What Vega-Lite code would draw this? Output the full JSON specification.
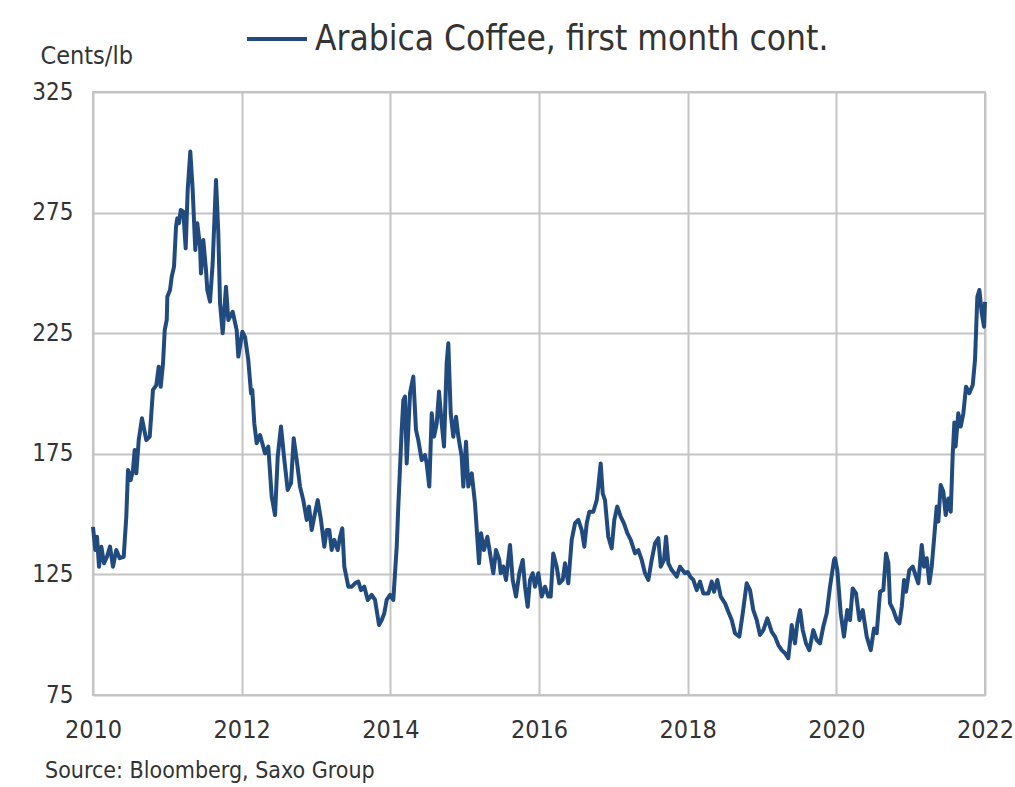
{
  "$schema": "https://vega.github.io/schema/vega-lite/v6.json",
  "width": 892,
  "height": 603,
  "autosize": "none",
  "padding": {"left": 93, "top": 92, "right": 30, "bottom": 92},
  "background": "white",
  "config": {
    "view": {"stroke": "#c4c4c4", "strokeWidth": 2},
    "font": "'Liberation Sans Narrow', 'DejaVu Sans Condensed', sans-serif"
  },
  "title": {
    "text": "Source: Bloomberg, Saxo Group",
    "orient": "bottom",
    "anchor": "start",
    "frame": "group",
    "dx": -48,
    "offset": 18,
    "fontSize": 23,
    "fontWeight": "normal",
    "color": "#333333",
    "font": "'Liberation Sans Narrow', 'DejaVu Sans Condensed', sans-serif"
  },
  "data": {
    "values": [
      {"year": 2010.000, "price": 144.7},
      {"year": 2010.031, "price": 135.1},
      {"year": 2010.054, "price": 140.6},
      {"year": 2010.081, "price": 128.2},
      {"year": 2010.112, "price": 136.5},
      {"year": 2010.148, "price": 129.6},
      {"year": 2010.188, "price": 132.3},
      {"year": 2010.229, "price": 136.5},
      {"year": 2010.269, "price": 128.2},
      {"year": 2010.313, "price": 135.1},
      {"year": 2010.359, "price": 131.7},
      {"year": 2010.413, "price": 132.3},
      {"year": 2010.448, "price": 149},
      {"year": 2010.471, "price": 168.3},
      {"year": 2010.507, "price": 164.1},
      {"year": 2010.538, "price": 168.3},
      {"year": 2010.561, "price": 176.6},
      {"year": 2010.583, "price": 166.9},
      {"year": 2010.615, "price": 180.7},
      {"year": 2010.659, "price": 189.7},
      {"year": 2010.717, "price": 180.7},
      {"year": 2010.763, "price": 182.1},
      {"year": 2010.807, "price": 201.5},
      {"year": 2010.852, "price": 203.5},
      {"year": 2010.884, "price": 211.1},
      {"year": 2010.911, "price": 202.8},
      {"year": 2010.942, "price": 212.5},
      {"year": 2010.965, "price": 226.3},
      {"year": 2010.992, "price": 230.5},
      {"year": 2011.000, "price": 240.1},
      {"year": 2011.036, "price": 242.9},
      {"year": 2011.059, "price": 248.4},
      {"year": 2011.090, "price": 252.6},
      {"year": 2011.117, "price": 269.2},
      {"year": 2011.134, "price": 272.6},
      {"year": 2011.157, "price": 270.6},
      {"year": 2011.180, "price": 276.1},
      {"year": 2011.215, "price": 275.4},
      {"year": 2011.247, "price": 260.2},
      {"year": 2011.274, "price": 284.4},
      {"year": 2011.309, "price": 300.3},
      {"year": 2011.341, "price": 284.4},
      {"year": 2011.376, "price": 259.5},
      {"year": 2011.403, "price": 270.6},
      {"year": 2011.440, "price": 260.9},
      {"year": 2011.453, "price": 249.8},
      {"year": 2011.484, "price": 263.6},
      {"year": 2011.520, "price": 251.2},
      {"year": 2011.538, "price": 242.9},
      {"year": 2011.574, "price": 238.1},
      {"year": 2011.610, "price": 254},
      {"year": 2011.655, "price": 288.5},
      {"year": 2011.686, "price": 266.5},
      {"year": 2011.709, "price": 237.4},
      {"year": 2011.745, "price": 225},
      {"year": 2011.789, "price": 244.3},
      {"year": 2011.820, "price": 230.5},
      {"year": 2011.879, "price": 233.9},
      {"year": 2011.933, "price": 226.3},
      {"year": 2011.955, "price": 215.3},
      {"year": 2012.009, "price": 225.6},
      {"year": 2012.045, "price": 223.5},
      {"year": 2012.089, "price": 213.9},
      {"year": 2012.126, "price": 200.1},
      {"year": 2012.143, "price": 201.5},
      {"year": 2012.170, "price": 187.6},
      {"year": 2012.202, "price": 179.4},
      {"year": 2012.247, "price": 182.8},
      {"year": 2012.278, "price": 179.4},
      {"year": 2012.314, "price": 175.2},
      {"year": 2012.358, "price": 178},
      {"year": 2012.404, "price": 157.2},
      {"year": 2012.449, "price": 149.6},
      {"year": 2012.485, "price": 173.8},
      {"year": 2012.529, "price": 186.3},
      {"year": 2012.574, "price": 172.5},
      {"year": 2012.619, "price": 160},
      {"year": 2012.664, "price": 162.8},
      {"year": 2012.700, "price": 181.4},
      {"year": 2012.740, "price": 172.5},
      {"year": 2012.785, "price": 161.4},
      {"year": 2012.829, "price": 155.8},
      {"year": 2012.875, "price": 147.6},
      {"year": 2012.906, "price": 153.1},
      {"year": 2012.942, "price": 143.4},
      {"year": 2012.977, "price": 149},
      {"year": 2013.023, "price": 155.8},
      {"year": 2013.067, "price": 147.6},
      {"year": 2013.112, "price": 136.5},
      {"year": 2013.144, "price": 143.4},
      {"year": 2013.179, "price": 143.4},
      {"year": 2013.211, "price": 135.1},
      {"year": 2013.246, "price": 139.3},
      {"year": 2013.292, "price": 135.1},
      {"year": 2013.323, "price": 140.6},
      {"year": 2013.354, "price": 144.1},
      {"year": 2013.381, "price": 128.2},
      {"year": 2013.435, "price": 119.9},
      {"year": 2013.480, "price": 119.9},
      {"year": 2013.525, "price": 121.3},
      {"year": 2013.569, "price": 122},
      {"year": 2013.606, "price": 118.5},
      {"year": 2013.650, "price": 119.9},
      {"year": 2013.696, "price": 114.4},
      {"year": 2013.749, "price": 116.5},
      {"year": 2013.794, "price": 114.4},
      {"year": 2013.848, "price": 104},
      {"year": 2013.884, "price": 106.1},
      {"year": 2013.919, "price": 108.9},
      {"year": 2013.951, "price": 114.4},
      {"year": 2013.996, "price": 116.5},
      {"year": 2014.040, "price": 114.4},
      {"year": 2014.086, "price": 136.5},
      {"year": 2014.107, "price": 153.1},
      {"year": 2014.153, "price": 184.9},
      {"year": 2014.175, "price": 197.3},
      {"year": 2014.197, "price": 198.7},
      {"year": 2014.220, "price": 171},
      {"year": 2014.242, "price": 184.9},
      {"year": 2014.265, "price": 200.1},
      {"year": 2014.309, "price": 207},
      {"year": 2014.345, "price": 184.9},
      {"year": 2014.376, "price": 180.7},
      {"year": 2014.422, "price": 172.4},
      {"year": 2014.466, "price": 174.5},
      {"year": 2014.489, "price": 171},
      {"year": 2014.524, "price": 161.4},
      {"year": 2014.557, "price": 191.8},
      {"year": 2014.588, "price": 182.1},
      {"year": 2014.624, "price": 187.6},
      {"year": 2014.655, "price": 200.8},
      {"year": 2014.691, "price": 187.6},
      {"year": 2014.722, "price": 178},
      {"year": 2014.758, "price": 212.5},
      {"year": 2014.780, "price": 220.8},
      {"year": 2014.812, "price": 191.8},
      {"year": 2014.847, "price": 182.1},
      {"year": 2014.884, "price": 190.4},
      {"year": 2014.915, "price": 182.1},
      {"year": 2014.960, "price": 173.8},
      {"year": 2014.982, "price": 161.4},
      {"year": 2015.018, "price": 180},
      {"year": 2015.049, "price": 161.4},
      {"year": 2015.095, "price": 166.9},
      {"year": 2015.139, "price": 154.4},
      {"year": 2015.166, "price": 142.1},
      {"year": 2015.193, "price": 129.6},
      {"year": 2015.220, "price": 142.1},
      {"year": 2015.260, "price": 135.1},
      {"year": 2015.305, "price": 140.6},
      {"year": 2015.341, "price": 133.7},
      {"year": 2015.385, "price": 125.5},
      {"year": 2015.422, "price": 135.1},
      {"year": 2015.466, "price": 131},
      {"year": 2015.485, "price": 125.5},
      {"year": 2015.520, "price": 128.2},
      {"year": 2015.556, "price": 122.7},
      {"year": 2015.610, "price": 137.2},
      {"year": 2015.646, "price": 122.7},
      {"year": 2015.691, "price": 115.8},
      {"year": 2015.735, "price": 125.5},
      {"year": 2015.781, "price": 131},
      {"year": 2015.812, "price": 119.9},
      {"year": 2015.848, "price": 111.6},
      {"year": 2015.879, "price": 122.7},
      {"year": 2015.915, "price": 125.5},
      {"year": 2015.946, "price": 119.9},
      {"year": 2015.991, "price": 125.5},
      {"year": 2016.036, "price": 115.8},
      {"year": 2016.081, "price": 119.9},
      {"year": 2016.125, "price": 115.8},
      {"year": 2016.157, "price": 115.8},
      {"year": 2016.192, "price": 133.7},
      {"year": 2016.238, "price": 128.2},
      {"year": 2016.273, "price": 121.3},
      {"year": 2016.319, "price": 122.7},
      {"year": 2016.350, "price": 129.6},
      {"year": 2016.394, "price": 121.3},
      {"year": 2016.440, "price": 139.3},
      {"year": 2016.485, "price": 146.2},
      {"year": 2016.529, "price": 147.6},
      {"year": 2016.575, "price": 143.4},
      {"year": 2016.610, "price": 136.5},
      {"year": 2016.642, "price": 146.2},
      {"year": 2016.677, "price": 151},
      {"year": 2016.731, "price": 151},
      {"year": 2016.777, "price": 155.8},
      {"year": 2016.798, "price": 161.4},
      {"year": 2016.830, "price": 171},
      {"year": 2016.857, "price": 158.6},
      {"year": 2016.888, "price": 155.8},
      {"year": 2016.932, "price": 140.6},
      {"year": 2016.978, "price": 135.8},
      {"year": 2017.013, "price": 147.6},
      {"year": 2017.053, "price": 153.1},
      {"year": 2017.099, "price": 149},
      {"year": 2017.143, "price": 146.2},
      {"year": 2017.188, "price": 142.1},
      {"year": 2017.234, "price": 139.3},
      {"year": 2017.292, "price": 133.7},
      {"year": 2017.336, "price": 135.1},
      {"year": 2017.382, "price": 131},
      {"year": 2017.426, "price": 125.5},
      {"year": 2017.471, "price": 122.7},
      {"year": 2017.516, "price": 131},
      {"year": 2017.561, "price": 137.9},
      {"year": 2017.605, "price": 140},
      {"year": 2017.638, "price": 128.2},
      {"year": 2017.682, "price": 131},
      {"year": 2017.709, "price": 140.6},
      {"year": 2017.740, "price": 129.6},
      {"year": 2017.786, "price": 126.8},
      {"year": 2017.853, "price": 124.1},
      {"year": 2017.897, "price": 128.2},
      {"year": 2017.964, "price": 125.5},
      {"year": 2018.000, "price": 126},
      {"year": 2018.036, "price": 124},
      {"year": 2018.076, "price": 122.7},
      {"year": 2018.122, "price": 118.5},
      {"year": 2018.166, "price": 122},
      {"year": 2018.211, "price": 117.1},
      {"year": 2018.278, "price": 117.1},
      {"year": 2018.324, "price": 122},
      {"year": 2018.355, "price": 117.8},
      {"year": 2018.399, "price": 122.7},
      {"year": 2018.445, "price": 115.8},
      {"year": 2018.503, "price": 113},
      {"year": 2018.547, "price": 109.5},
      {"year": 2018.593, "price": 106.1},
      {"year": 2018.637, "price": 100.6},
      {"year": 2018.695, "price": 99.2},
      {"year": 2018.741, "price": 108.9},
      {"year": 2018.794, "price": 121.3},
      {"year": 2018.839, "price": 118.5},
      {"year": 2018.883, "price": 110.2},
      {"year": 2018.929, "price": 106.1},
      {"year": 2018.973, "price": 99.9},
      {"year": 2019.018, "price": 101.9},
      {"year": 2019.072, "price": 106.8},
      {"year": 2019.131, "price": 101.2},
      {"year": 2019.175, "price": 99.2},
      {"year": 2019.220, "price": 95.7},
      {"year": 2019.265, "price": 93.6},
      {"year": 2019.310, "price": 92.3},
      {"year": 2019.354, "price": 90.2},
      {"year": 2019.400, "price": 104},
      {"year": 2019.444, "price": 96.4},
      {"year": 2019.475, "price": 104.7},
      {"year": 2019.512, "price": 110.2},
      {"year": 2019.548, "price": 101.9},
      {"year": 2019.592, "price": 96.4},
      {"year": 2019.637, "price": 93.6},
      {"year": 2019.690, "price": 101.9},
      {"year": 2019.736, "price": 97.8},
      {"year": 2019.780, "price": 96.4},
      {"year": 2019.825, "price": 103.4},
      {"year": 2019.871, "price": 108.9},
      {"year": 2019.915, "price": 119.9},
      {"year": 2019.969, "price": 131},
      {"year": 2019.982, "price": 131.7},
      {"year": 2020.013, "price": 126.8},
      {"year": 2020.059, "price": 108.9},
      {"year": 2020.103, "price": 99.2},
      {"year": 2020.147, "price": 110.2},
      {"year": 2020.184, "price": 106.1},
      {"year": 2020.220, "price": 119.2},
      {"year": 2020.265, "price": 117.1},
      {"year": 2020.310, "price": 106.1},
      {"year": 2020.355, "price": 110.2},
      {"year": 2020.409, "price": 99.2},
      {"year": 2020.463, "price": 93.6},
      {"year": 2020.507, "price": 102.6},
      {"year": 2020.543, "price": 100.6},
      {"year": 2020.588, "price": 117.8},
      {"year": 2020.632, "price": 118.5},
      {"year": 2020.669, "price": 133.7},
      {"year": 2020.700, "price": 129.6},
      {"year": 2020.722, "price": 113},
      {"year": 2020.767, "price": 110.2},
      {"year": 2020.813, "price": 106.1},
      {"year": 2020.848, "price": 104.7},
      {"year": 2020.880, "price": 111.6},
      {"year": 2020.911, "price": 122.7},
      {"year": 2020.938, "price": 117.8},
      {"year": 2020.982, "price": 126.8},
      {"year": 2021.028, "price": 128.2},
      {"year": 2021.072, "price": 124.1},
      {"year": 2021.103, "price": 121.3},
      {"year": 2021.149, "price": 137.2},
      {"year": 2021.180, "price": 128.2},
      {"year": 2021.216, "price": 131.7},
      {"year": 2021.251, "price": 121.3},
      {"year": 2021.283, "price": 128.2},
      {"year": 2021.314, "price": 139.3},
      {"year": 2021.350, "price": 153.1},
      {"year": 2021.372, "price": 146.9},
      {"year": 2021.404, "price": 162.1},
      {"year": 2021.439, "price": 159.4},
      {"year": 2021.471, "price": 149.6},
      {"year": 2021.507, "price": 156.5},
      {"year": 2021.539, "price": 151},
      {"year": 2021.566, "price": 175},
      {"year": 2021.588, "price": 188},
      {"year": 2021.604, "price": 178},
      {"year": 2021.641, "price": 191.8},
      {"year": 2021.673, "price": 186.3},
      {"year": 2021.709, "price": 191.8},
      {"year": 2021.745, "price": 202.8},
      {"year": 2021.789, "price": 200.1},
      {"year": 2021.835, "price": 203.5},
      {"year": 2021.866, "price": 214.1},
      {"year": 2021.897, "price": 240.1},
      {"year": 2021.924, "price": 242.9},
      {"year": 2021.956, "price": 233.3},
      {"year": 2021.987, "price": 227.7},
      {"year": 2022.000, "price": 238}
    ]
  },
  "mark": {"type": "line", "strokeWidth": 4, "strokeJoin": "round"},
  "encoding": {
    "x": {
      "field": "year",
      "type": "quantitative",
      "scale": {"domain": [2010, 2022], "nice": false, "zero": false},
      "axis": {
        "values": [2010, 2012, 2014, 2016, 2018, 2020, 2022],
        "format": "d",
        "title": null,
        "grid": true,
        "gridColor": "#c4c4c4",
        "gridWidth": 2,
        "domain": false,
        "ticks": false,
        "labelFontSize": 25,
        "labelPadding": 22,
        "labelColor": "#333333",
        "labelFlush": false
      }
    },
    "y": {
      "field": "price",
      "type": "quantitative",
      "scale": {"domain": [75, 325], "nice": false, "zero": false},
      "axis": {
        "values": [75, 125, 175, 225, 275, 325],
        "title": "Cents/lb",
        "titleAngle": 0,
        "titleAlign": "left",
        "titleBaseline": "middle",
        "titleX": -53,
        "titleY": -37,
        "titleFontSize": 25,
        "titleFontWeight": "normal",
        "titleColor": "#333333",
        "grid": true,
        "gridColor": "#c4c4c4",
        "gridWidth": 2,
        "domain": false,
        "ticks": false,
        "labelFontSize": 24,
        "labelPadding": 20,
        "labelColor": "#333333"
      }
    },
    "color": {
      "datum": "Arabica Coffee, first month cont.",
      "type": "nominal",
      "scale": {"range": ["#214a7e"]},
      "legend": {
        "orient": "none",
        "legendX": 152,
        "legendY": -85,
        "title": null,
        "symbolType": "stroke",
        "symbolSize": 3600,
        "symbolStrokeWidth": 4,
        "labelFontSize": 35,
        "labelColor": "#333333",
        "labelOffset": 6,
        "labelLimit": 700
      }
    }
  }
}
